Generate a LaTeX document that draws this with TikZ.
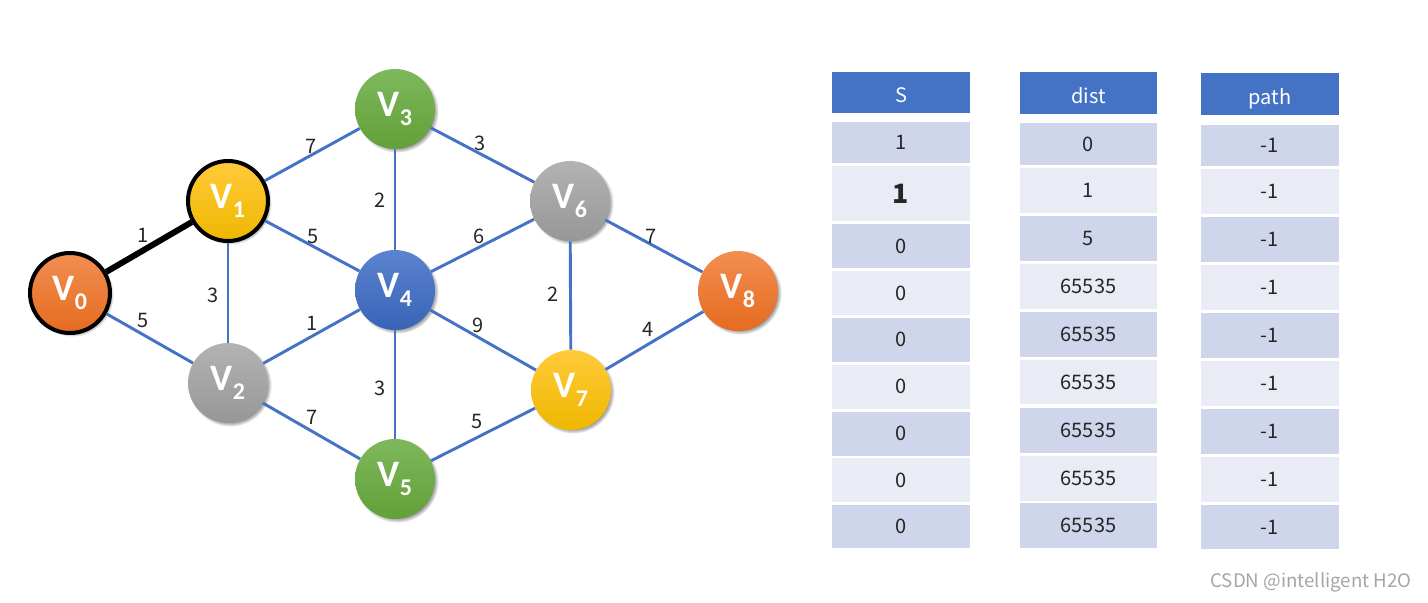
\documentclass[tikz,border=0pt]{standalone}
\usepackage{fontspec}
\setmainfont{Noto Sans CJK SC}
\newfontfamily\vtxfont{Carlito}[BoldFont={Carlito Bold}]
\usetikzlibrary{shadows}

\definecolor{linkblue}{HTML}{4472C4}
\definecolor{rowdark}{HTML}{CFD5EA}
\definecolor{rowlight}{HTML}{E9EBF5}
\definecolor{orangetop}{HTML}{F28E52}
\definecolor{orangebot}{HTML}{E56B1F}
\definecolor{yellowtop}{HTML}{FFCB3A}
\definecolor{yellowbot}{HTML}{EFB700}
\definecolor{graytop}{HTML}{B3B3B3}
\definecolor{graybot}{HTML}{979797}
\definecolor{greentop}{HTML}{7EB85C}
\definecolor{greenbot}{HTML}{62A038}
\definecolor{bluetop}{HTML}{5A84D0}
\definecolor{bluebot}{HTML}{3963B6}

\newcommand{\vname}[1]{V\raisebox{-7pt}{\fontsize{18}{18}\selectfont #1}}
\newcommand{\bigone}{{\bfseries\fontsize{20}{20}\selectfont 1}}

\tikzset{
  vtx/.style={circle, minimum size=60pt, inner sep=0pt, text=white,
    font=\vtxfont\fontsize{28}{28}\selectfont\bfseries,
    circular drop shadow={shadow xshift=1.5pt, shadow yshift=-1.5pt, shadow scale=1.04}},
  visited/.style={draw=black, line width=3pt},
  link/.style={draw=linkblue, line width=2.2pt},
  chosen/.style={draw=black, line width=4.5pt},
  wt/.style={midway, inner sep=0pt, font=\fontsize{15}{15}\selectfont, text=black!85},
  head/.style={rectangle, inner sep=0pt, fill=linkblue, text=white,
    text height=15pt, text depth=0pt, font=\fontsize{15}{15}\selectfont},
  cell/.style={rectangle, inner sep=0pt, text=black!85,
    font=\fontsize{15}{15}\selectfont}
}

\begin{document}
\begin{tikzpicture}[x=0.75pt, y=-0.75pt]
\path[fill=white] (0,0) rectangle (1428,603);
\useasboundingbox (0,0) rectangle (1428,603);

% graph
\node[vtx, visited, top color=orangetop, bottom color=orangebot] (v0) at (70,293) {\vname{0}};
\node[vtx, visited, top color=yellowtop, bottom color=yellowbot] (v1) at (228,201) {\vname{1}};
\node[vtx, top color=graytop, bottom color=graybot] (v2) at (228,383) {\vname{2}};
\node[vtx, top color=greentop, bottom color=greenbot] (v3) at (395,109) {\vname{3}};
\node[vtx, top color=bluetop, bottom color=bluebot] (v4) at (395,290) {\vname{4}};
\node[vtx, top color=greentop, bottom color=greenbot] (v5) at (395,479) {\vname{5}};
\node[vtx, top color=graytop, bottom color=graybot] (v6) at (570,201) {\vname{6}};
\node[vtx, top color=yellowtop, bottom color=yellowbot] (v7) at (571,390) {\vname{7}};
\node[vtx, top color=orangetop, bottom color=orangebot] (v8) at (738,291) {\vname{8}};

\draw[chosen] (v0) -- node[wt, shift={(-6,-12)}] {1} (v1);
\foreach \a/\b/\w/\dx/\dy in {v0/v2/5/-7/-18, v1/v3/7/-1/-8, v1/v4/5/1/-9,
    v1/v2/3/-15/3, v3/v4/2/-15/1, v3/v6/3/-2/-12, v4/v6/6/-3/-9,
    v4/v2/1/1/-13, v4/v5/3/-15/4, v4/v7/9/-5/-15, v2/v5/7/1/-14,
    v5/v7/5/-6/-13, v6/v7/2/-17/-1, v6/v8/7/-3/-10, v7/v8/4/-6/-11}
  \draw[link] (\a) -- node[wt, shift={(\dx,\dy)}] {\w} (\b);

% table S
\node[head, minimum width=103.5pt, minimum height=30.75pt] (shead) at (901,92.5) {S};
\foreach \v/\yc/\h/\c [count=\i] in {1/142.5/41/rowdark, \bigone/193.5/55/rowlight,
    0/246/44/rowdark, 0/293/44/rowlight, 0/339.5/44/rowdark, 0/386.5/44/rowlight,
    0/433.5/44/rowdark, 0/480/44/rowlight, 0/526.5/43/rowdark}
  \node[cell, fill=\c, minimum width=103.5pt, minimum height=\h*0.75pt] (s\i) at (901,\yc) {\v};

% table dist
\node[head, minimum width=102.75pt, minimum height=31.5pt] (dhead) at (1088.5,93) {dist};
\foreach \v/\yc/\h/\c [count=\i] in {0/144/42/rowdark, 1/190.5/45/rowlight,
    5/238.5/45/rowdark, 65535/286.5/45/rowlight, 65535/334.5/45/rowdark,
    65535/382/44/rowlight, 65535/430.5/45/rowdark, 65535/478.5/45/rowlight,
    65535/525.5/45/rowdark}
  \node[cell, fill=\c, minimum width=102.75pt, minimum height=\h*0.75pt] (d\i) at (1088.5,\yc) {\v};

% table path
\node[head, minimum width=103.5pt, minimum height=31.5pt] (phead) at (1270,94) {path};
\foreach \yc/\h/\c [count=\i] in {145.5/41/rowdark, 191.5/45/rowlight,
    239.5/45/rowdark, 287.5/45/rowlight, 335.5/45/rowdark, 383.5/45/rowlight,
    431.5/45/rowdark, 479.5/45/rowlight, 527/44/rowdark}
  \node[cell, fill=\c, minimum width=103.5pt, minimum height=\h*0.75pt] (p\i) at (1270,\yc) {-1};

\node[text=black!35, font=\fontsize{14}{14}\selectfont] (mark) at (1311,582) {CSDN @intelligent H2O};
\end{tikzpicture}
\end{document}
